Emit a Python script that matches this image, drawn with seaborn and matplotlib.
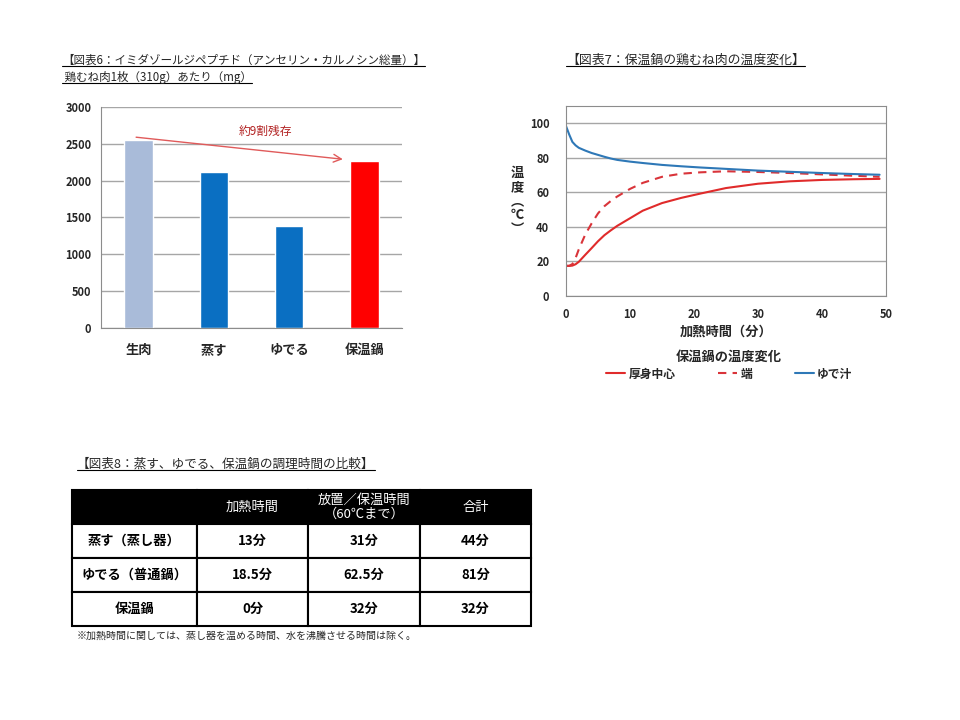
import matplotlib
matplotlib.use("Agg")
import matplotlib.pyplot as plt
from matplotlib.lines import Line2D
from matplotlib.ticker import MultipleLocator, FixedLocator
import seaborn as sns
import pandas as pd

# 図表6: イミダゾールジペプチド (mg)
CATEGORIES = ["生肉", "蒸す", "ゆでる", "保温鍋"]
IMIDAZOLE_MG = [2550, 2120, 1380, 2270]
BAR_COLORS = ["#a9bbd9", "#0a6fc2", "#0a6fc2", "#ff0000"]

# 図表7: 保温鍋の温度変化
TIME_MIN = [0, 0.5, 1, 1.5, 2, 3, 4, 5, 6, 7, 8, 10, 12, 15, 18, 21, 25, 30, 35, 40, 45, 49]
TEMP_CENTER = [17.4, 17.4, 17.6, 18.4, 19.8, 23.8, 27.7, 31.7, 35.2, 38.0, 40.6, 45.0,
               49.4, 53.8, 56.8, 59.3, 62.5, 65.0, 66.4, 67.2, 67.6, 67.8]
TEMP_EDGE = [17.5, 17.5, 18.5, 22.0, 27.0, 35.5, 42.0, 47.8, 52.0, 55.0, 57.6, 62.0,
             65.5, 69.0, 70.8, 71.6, 72.2, 71.8, 71.2, 70.4, 69.6, 69.0]
TEMP_WATER = [98.4, 93.5, 89.2, 87.2, 85.8, 84.2, 82.8, 81.7, 80.6, 79.6, 78.8, 77.8,
              77.0, 75.9, 75.1, 74.4, 73.6, 72.6, 71.9, 71.2, 70.6, 70.2]
SERIES_NAMES = ["厚身中心", "端", "ゆで汁"]
SERIES_COLORS = ["#e02b2b", "#d9343a", "#2e78b7"]

# 図表8: 調理時間の比較
TABLE_HEADER = ["", "加熱時間", "放置／保温時間\n（60℃まで）", "合計"]
TABLE_ROWS = [
    ["蒸す（蒸し器）", "13分", "31分", "44分"],
    ["ゆでる（普通鍋）", "18.5分", "62.5分", "81分"],
    ["保温鍋", "0分", "32分", "32分"],
]
TABLE_COL_W = [125, 111, 112, 111]

sns.set_style("white")
plt.rcParams['font.family'] = ['Noto Sans CJK JP', 'DejaVu Sans']

W, H = 960, 720
fig = plt.figure(figsize=(9.6, 7.2), dpi=100)


def px_axes(left, top, right, bottom):
    return fig.add_axes([left / W, 1 - bottom / H, (right - left) / W, (bottom - top) / H])


def underlined(x, y, s, size):
    t = fig.text(x / W, 1 - y / H, s, fontsize=size, ha='left', va='center')
    fig.canvas.draw()
    bb = t.get_window_extent()
    yy = bb.y0 / H + 0.001
    fig.add_artist(Line2D([bb.x0 / W, bb.x1 / W], [yy, yy], color='black', lw=0.8))
    return t


# ---- 図表6 bar chart ----
ax1 = px_axes(101, 107, 402, 328)
sns.barplot(x=CATEGORIES, y=IMIDAZOLE_MG, hue=CATEGORIES, palette=BAR_COLORS,
            width=0.38, legend=False, ax=ax1, saturation=1)
ax1.set_xlim(-0.5, 3.5)
ax1.set_ylim(0, 3000)
ax1.yaxis.set_major_locator(MultipleLocator(500))
ax1.grid(axis='y', color='#a6a6a6', lw=1)
ax1.set_axisbelow(True)
for side in ['top', 'right']:
    ax1.spines[side].set_visible(False)
for side in ['left', 'bottom']:
    ax1.spines[side].set_color('#8c8c8c')
ax1.tick_params(axis='y', direction='out', length=4, color='#8c8c8c', labelsize=8, pad=3)
ax1.tick_params(axis='x', length=0, labelsize=9.5, pad=11)
ax1.xaxis.set_minor_locator(FixedLocator([0.5, 1.5, 2.5, 3.5]))
ax1.tick_params(axis='x', which='minor', direction='out', length=4, color='#8c8c8c')
for lab in ax1.get_yticklabels() + ax1.get_xticklabels():
    lab.set_fontweight('bold')
ax1.set_xlabel("")
ax1.set_ylabel("")
ax1.annotate("", xy=(2.75, 2287), xytext=(-0.07, 2594),
             arrowprops=dict(arrowstyle='->', color='#e05a5a', lw=1, mutation_scale=14))
ax1.text(1.69, 2662, "約9割残存", color='#b22222', fontsize=8.5, ha='center', va='center')

underlined(62, 60, "【図表6：イミダゾールジペプチド（アンセリン・カルノシン総量）】", 8.3)
underlined(62, 77, " 鶏むね肉1枚（310g）あたり（mg）", 8.3)

# ---- 図表7 line chart ----
ax2 = px_axes(566, 106, 886, 296)
df = pd.concat([
    pd.DataFrame({'時間': TIME_MIN, '温度': TEMP_CENTER, '系列': SERIES_NAMES[0]}),
    pd.DataFrame({'時間': TIME_MIN, '温度': TEMP_EDGE, '系列': SERIES_NAMES[1]}),
    pd.DataFrame({'時間': TIME_MIN, '温度': TEMP_WATER, '系列': SERIES_NAMES[2]}),
])
sns.lineplot(data=df, x='時間', y='温度', hue='系列', style='系列',
             palette=dict(zip(SERIES_NAMES, SERIES_COLORS)),
             dashes={SERIES_NAMES[0]: '', SERIES_NAMES[1]: (4, 3), SERIES_NAMES[2]: ''},
             lw=1.5, ax=ax2, legend=False)
ax2.set_xlim(0, 50)
ax2.set_ylim(0, 110)
ax2.yaxis.set_major_locator(FixedLocator([0, 20, 40, 60, 80, 100]))
ax2.yaxis.set_minor_locator(MultipleLocator(10))
ax2.xaxis.set_major_locator(MultipleLocator(10))
ax2.xaxis.set_minor_locator(MultipleLocator(5))
ax2.grid(axis='y', which='major', color='#a6a6a6', lw=1)
for side in ax2.spines:
    ax2.spines[side].set_color('#8c8c8c')
ax2.tick_params(which='both', direction='in', length=3, color='#8c8c8c', labelsize=8)
ax2.tick_params(axis='y', pad=12)
ax2.tick_params(axis='x', pad=9)
for lab in ax2.get_yticklabels() + ax2.get_xticklabels():
    lab.set_fontweight('bold')
ax2.set_xlabel("加熱時間（分）", fontsize=9.5, fontweight='bold', labelpad=2)
ax2.set_ylabel("")
fig.text(517 / W, 1 - 201 / H, "温\n度\n︵\n℃\n︶", fontsize=9.5, fontweight='bold',
         ha='center', va='center', linespacing=1.0)

handles = [Line2D([], [], color=SERIES_COLORS[0], lw=1.5),
           Line2D([], [], color=SERIES_COLORS[1], lw=1.5, ls=(0, (4, 3))),
           Line2D([], [], color=SERIES_COLORS[2], lw=1.5)]
leg = ax2.legend(handles, SERIES_NAMES, title="保温鍋の温度変化", ncol=3, frameon=False,
                 loc='upper center', bbox_to_anchor=(0.51, -0.25),
                 handlelength=1.6, handletextpad=0.3, columnspacing=3.6,
                 prop={'size': 8.5, 'weight': 'bold'}, title_fontproperties={'size': 9.5, 'weight': 'bold'},
                 borderpad=0, labelspacing=0.2)
leg._legend_box.sep = 3

underlined(566, 60, "【図表7：保温鍋の鶏むね肉の温度変化】", 9.3)

# ---- 図表8 table ----
underlined(77, 464, "【図表8：蒸す、ゆでる、保温鍋の調理時間の比較】", 9.1)
ax3 = px_axes(72, 490, 531, 626)
ax3.axis('off')
total_w = sum(TABLE_COL_W)
tbl = ax3.table(cellText=[TABLE_HEADER] + TABLE_ROWS,
                colWidths=[w / total_w for w in TABLE_COL_W],
                cellLoc='center', bbox=[0, 0, 1, 1])
tbl.auto_set_font_size(False)
for (r, c), cell in tbl.get_celld().items():
    cell.set_linewidth(1.5)
    cell.set_edgecolor('black')
    txt = cell.get_text()
    txt.set_fontsize(9.5)
    if r == 0:
        cell.set_facecolor('black')
        txt.set_color('white')
        txt.set_linespacing(1.1)
    else:
        cell.set_facecolor('white')
        txt.set_fontweight('bold')
        txt.set_color('black')

fig.text(77 / W, 1 - 636 / H, "※加熱時間に関しては、蒸し器を温める時間、水を沸騰させる時間は除く。",
         fontsize=7.2, ha='left', va='center')

fig.savefig("out.png", dpi=100, facecolor='white')
